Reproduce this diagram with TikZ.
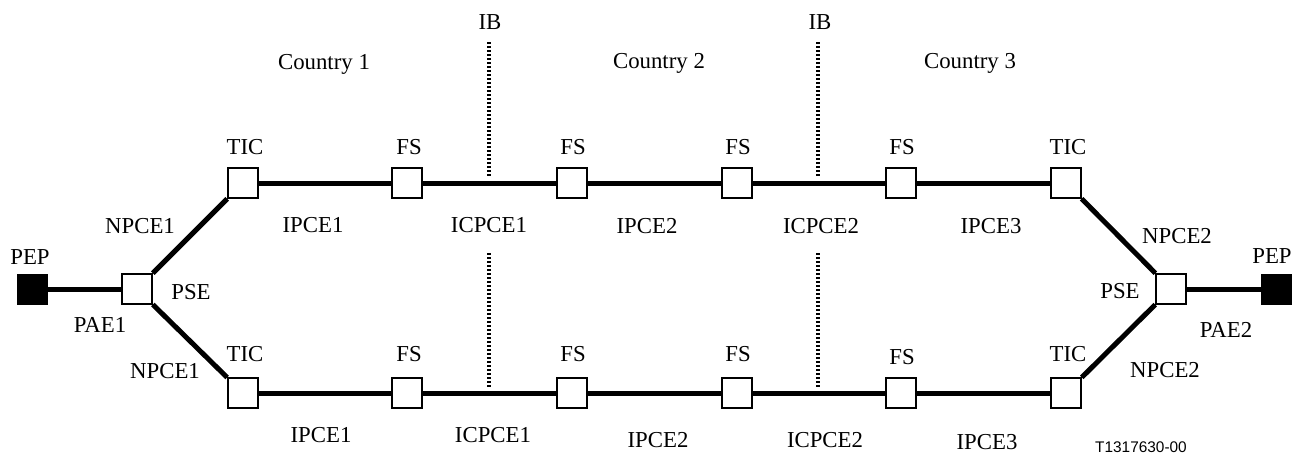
\documentclass[tikz,border=0pt]{standalone}
\usepackage{fontspec}
\setmainfont{Liberation Serif}
\newfontfamily\tagfont{Liberation Sans}
\begin{document}
\begin{tikzpicture}[x=0.5pt,y=-0.5pt,
  box/.style={draw, line width=0.8pt, fill=white, minimum size=15pt, inner sep=0pt},
  pep/.style={draw=black, fill=black, minimum size=15pt, inner sep=0pt},
  link/.style={line width=2.5pt},
  ib/.style={line width=1.6pt, dash pattern=on 1pt off 1pt},
  lbl/.style={anchor=base, inner sep=0pt, font=\fontsize{11.4pt}{13pt}\selectfont},
  tag/.style={anchor=base, inner sep=0pt, font=\tagfont\fontsize{7.7pt}{9pt}\selectfont}]
\useasboundingbox (0,0) rectangle (1295,455);

% nodes
\node[pep] (pepL) at (32,289) {};
\node[box] (pseL) at (137,289) {};
\node[box] (ticTL) at (243,183) {};
\node[box] (fsT1) at (407,183) {};
\node[box] (fsT2) at (572,183) {};
\node[box] (fsT3) at (737,183) {};
\node[box] (fsT4) at (901,183) {};
\node[box] (ticTR) at (1066,183) {};
\node[box] (ticBL) at (243,393) {};
\node[box] (fsB1) at (407,393) {};
\node[box] (fsB2) at (572,393) {};
\node[box] (fsB3) at (737,393) {};
\node[box] (fsB4) at (901,393) {};
\node[box] (ticBR) at (1066,393) {};
\node[box] (pseR) at (1171,289) {};
\node[pep] (pepR) at (1276,289) {};

% links
\draw[link] (pepL) -- (pseL);
\draw[link] (pseL) -- (ticTL);
\draw[link] (pseL) -- (ticBL);
\draw[link] (ticTL) -- (fsT1);
\draw[link] (fsT1) -- (fsT2);
\draw[link] (fsT2) -- (fsT3);
\draw[link] (fsT3) -- (fsT4);
\draw[link] (fsT4) -- (ticTR);
\draw[link] (ticBL) -- (fsB1);
\draw[link] (fsB1) -- (fsB2);
\draw[link] (fsB2) -- (fsB3);
\draw[link] (fsB3) -- (fsB4);
\draw[link] (fsB4) -- (ticBR);
\draw[link] (ticTR) -- (pseR);
\draw[link] (ticBR) -- (pseR);
\draw[link] (pseR) -- (pepR);

% international boundaries
\coordinate (ib1a) at (489,42);
\coordinate (ib1b) at (489,177);
\coordinate (ib1c) at (489,253);
\coordinate (ib1d) at (489,387);
\coordinate (ib2a) at (818,42);
\coordinate (ib2b) at (818,177);
\coordinate (ib2c) at (818,253);
\coordinate (ib2d) at (818,387);
\draw[ib] (ib1a) -- (ib1b);
\draw[ib] (ib1c) -- (ib1d);
\draw[ib] (ib2a) -- (ib2b);
\draw[ib] (ib2c) -- (ib2d);

% labels
\node[lbl] (lIB1) at (490,29) {IB};
\node[lbl] (lIB2) at (820,29) {IB};
\node[lbl] (lC1) at (324,69) {Country 1};
\node[lbl] (lC2) at (659,68) {Country 2};
\node[lbl] (lC3) at (970,68) {Country 3};

\node[lbl] (lTIC1) at (245,154) {TIC};
\node[lbl] (lFS1) at (409,154) {FS};
\node[lbl] (lFS2) at (573,154) {FS};
\node[lbl] (lFS3) at (738,154) {FS};
\node[lbl] (lFS4) at (902,154) {FS};
\node[lbl] (lTIC2) at (1068,154) {TIC};

\node[lbl] (lI1) at (313,232) {IPCE1};
\node[lbl] (lIC1) at (489,232) {ICPCE1};
\node[lbl] (lI2) at (647,233) {IPCE2};
\node[lbl] (lIC2) at (821,233) {ICPCE2};
\node[lbl] (lI3) at (991,233) {IPCE3};

\node[lbl] (lNP1) at (140,233) {NPCE1};
\node[lbl] (lPEP1) at (30,264) {PEP};
\node[lbl] (lPSE1) at (191,299) {PSE};
\node[lbl] (lPAE1) at (100,332) {PAE1};
\node[lbl] (lNP1b) at (165,378) {NPCE1};

\node[lbl] (lNP2) at (1177,243) {NPCE2};
\node[lbl] (lPEP2) at (1272,263) {PEP};
\node[lbl] (lPSE2) at (1120,298) {PSE};
\node[lbl] (lPAE2) at (1226,337) {PAE2};
\node[lbl] (lNP2b) at (1165,377) {NPCE2};

\node[lbl] (lTIC3) at (245,361) {TIC};
\node[lbl] (lFS5) at (409,361) {FS};
\node[lbl] (lFS6) at (573,361) {FS};
\node[lbl] (lFS7) at (738,361) {FS};
\node[lbl] (lFS8) at (902,364) {FS};
\node[lbl] (lTIC4) at (1068,361) {TIC};

\node[lbl] (lI1b) at (321,442) {IPCE1};
\node[lbl] (lIC1b) at (493,442) {ICPCE1};
\node[lbl] (lI2b) at (658,447) {IPCE2};
\node[lbl] (lIC2b) at (825,447) {ICPCE2};
\node[lbl] (lI3b) at (987,449) {IPCE3};
\node[tag] (lTag) at (1141,452) {T1317630-00};
\end{tikzpicture}
\end{document}
